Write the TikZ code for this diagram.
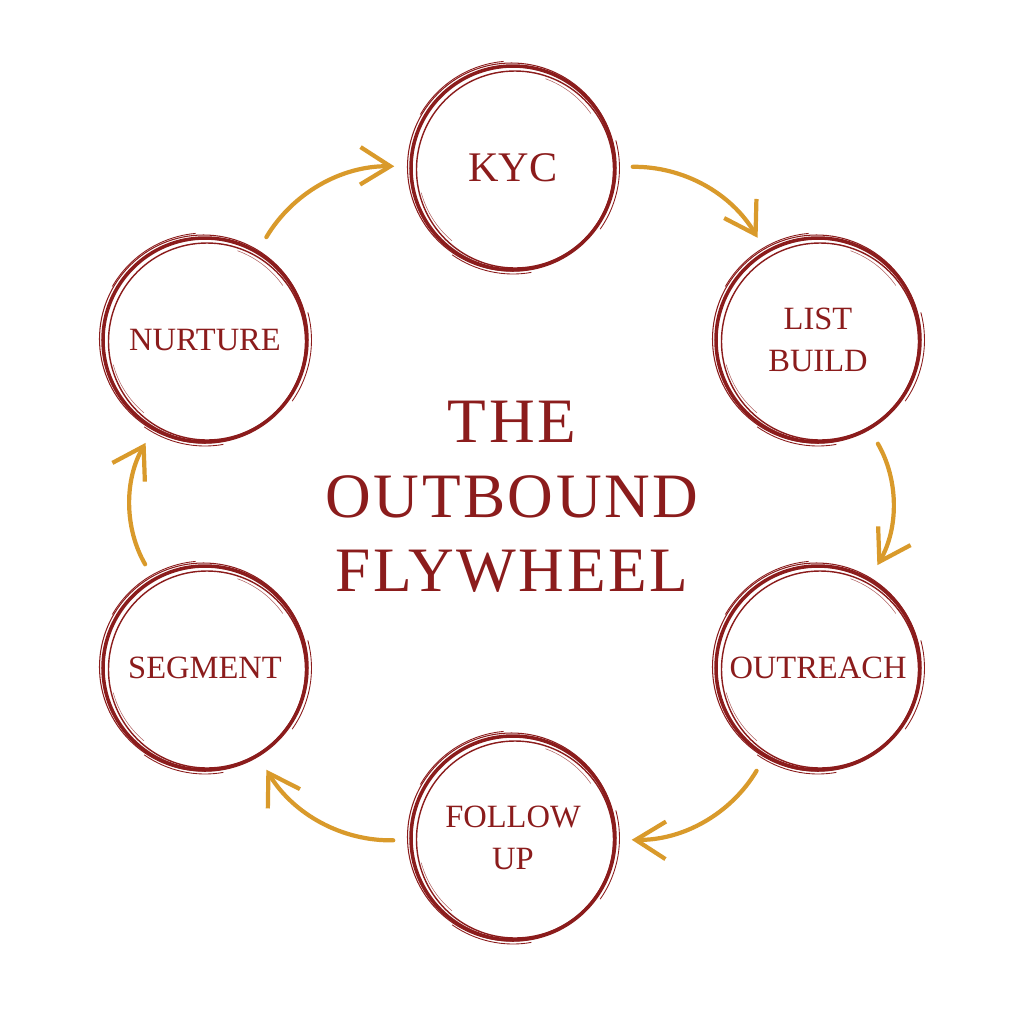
\documentclass[tikz,border=0pt]{standalone}
\usepackage{fontspec}
\setmainfont{Liberation Serif}
\usepackage{tikz}
\usetikzlibrary{positioning,arrows.meta}
\usepackage{xcolor}
\definecolor{ringred}{HTML}{8B1C1C}
\definecolor{flygold}{HTML}{D99A2B}
\newcommand{\sketchring}[1]{%
  \draw[ringred,line width=0.8pt] ([shift={(0.04,-0.03)}]#1.center) circle (1.97);
  \draw[ringred,line width=0.6pt] ([shift={(-0.03,0.02)}]#1.center) circle (2.08);
  \draw[ringred,line width=0.5pt] (#1.center) ++(95:2.14) arc (95:150:2.14);
  \draw[ringred,line width=0.5pt] (#1.center) ++(-35:2.13) arc (-35:15:2.13);
  \draw[ringred,line width=0.5pt] (#1.center) ++(235:2.12) arc (235:280:2.12);
  \draw[ringred!70,line width=0.3pt] (#1.center) ++(35:1.9) arc (35:70:1.9);
  \draw[ringred!70,line width=0.3pt] (#1.center) ++(195:1.9) arc (195:230:1.9);
}

\begin{document}
\begin{tikzpicture}[>={Straight Barb[length=6mm,width=7.5mm]},
  station/.style={circle,draw=ringred,line width=2pt,minimum size=4.08cm,inner sep=0pt,
    align=center,text=ringred,font=\fontsize{18.5}{24}\selectfont},
  flow/.style={->,flygold,line width=2.4pt,line cap=round,bend left=30,
    shorten <=0.32cm,shorten >=0.3cm}]
\useasboundingbox (0,0) rectangle (20.48,-20.48);
\node (kyc) [station,font=\fontsize{24}{28}\selectfont] at (10.26,-3.36) {KYC};
\node (list) [station] at (16.36,-6.80) {LIST\\BUILD};
\node (outreach) [station] at (16.36,-13.36) {OUTREACH};
\node (follow) [station] at (10.26,-16.76) {FOLLOW\\UP};
\node (segment) [station] at (4.10,-13.36) {SEGMENT};
\node (nurture) [station] at (4.10,-6.80) {NURTURE};
\node (title) [text=ringred,align=center,font=\fontsize{36}{42.5}\selectfont\addfontfeatures{LetterSpace=4}]
  at (10.24,-9.94) {THE\\OUTBOUND\\FLYWHEEL};
\foreach \s in {kyc,list,outreach,follow,segment,nurture}{\sketchring{\s}}
\draw[flow] (kyc) to (list);
\draw[flow] (list) to (outreach);
\draw[flow] (outreach) to (follow);
\draw[flow] (follow) to (segment);
\draw[flow] (segment) to (nurture);
\draw[flow] (nurture) to (kyc);
\end{tikzpicture}
\end{document}
